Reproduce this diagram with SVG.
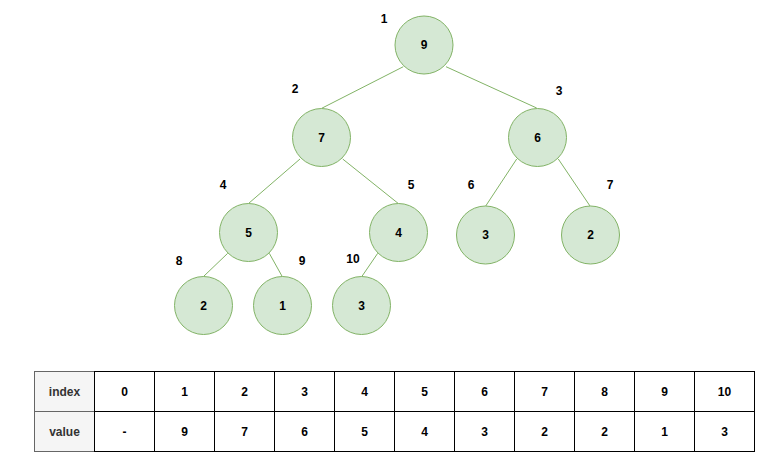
<svg xmlns="http://www.w3.org/2000/svg" width="772" height="471" viewBox="0 0 772 471">
<style>
.n{fill:#d5e8d4;stroke:#82b366;stroke-width:1}
.e{stroke:#82b366;stroke-width:1;fill:none}
.t{font-family:"Liberation Sans",Arial,sans-serif;font-size:12px;font-weight:bold;fill:#000;text-anchor:middle;dominant-baseline:central}
.lb{font-family:"Liberation Sans",Arial,sans-serif;font-size:12px;font-weight:bold;fill:#000;text-anchor:middle;dominant-baseline:central}
.c{fill:#fff;stroke:#000;stroke-width:1}
.h{fill:#f5f5f5;stroke:#666;stroke-width:1}
.ht{font-family:"Liberation Sans",Arial,sans-serif;font-size:12px;font-weight:bold;fill:#333;text-anchor:middle;dominant-baseline:central}
</style>
<rect width="772" height="471" fill="#fff"/>
<g id="connectors">
<line class="e" x1="403.3" y1="66.7" x2="321.7" y2="108.3"/>
<line class="e" x1="446" y1="66.7" x2="536.7" y2="108"/>
<line class="e" x1="300" y1="159" x2="248.5" y2="203.5"/>
<line class="e" x1="342.7" y1="159" x2="398.3" y2="203.5"/>
<line class="e" x1="516.7" y1="159" x2="485.7" y2="206"/>
<line class="e" x1="558.3" y1="159" x2="590" y2="206"/>
<line class="e" x1="227.7" y1="253.3" x2="203.3" y2="276.7"/>
<line class="e" x1="269.3" y1="253.3" x2="282.3" y2="276.7"/>
<line class="e" x1="377.7" y1="253.3" x2="361.7" y2="276.7"/>
</g>
<g id="node1"><circle class="n" cx="424" cy="45" r="29"/><text class="t" x="424" y="45">9</text></g>
<g id="node2"><circle class="n" cx="321.5" cy="137.5" r="29"/><text class="t" x="321.5" y="137.5">7</text></g>
<g id="node3"><circle class="n" cx="537.5" cy="137.5" r="29"/><text class="t" x="537.5" y="137.5">6</text></g>
<g id="node4"><circle class="n" cx="248.5" cy="232.5" r="29"/><text class="t" x="248.5" y="232.5">5</text></g>
<g id="node5"><circle class="n" cx="398.5" cy="232.5" r="29"/><text class="t" x="398.5" y="232.5">4</text></g>
<g id="node6"><circle class="n" cx="485.5" cy="235" r="29"/><text class="t" x="485.5" y="235">3</text></g>
<g id="node7"><circle class="n" cx="590.5" cy="235" r="29"/><text class="t" x="590.5" y="235">2</text></g>
<g id="node8"><circle class="n" cx="203.5" cy="305.5" r="29"/><text class="t" x="203.5" y="305.5">2</text></g>
<g id="node9"><circle class="n" cx="282.5" cy="305.5" r="29"/><text class="t" x="282.5" y="305.5">1</text></g>
<g id="node10"><circle class="n" cx="361.5" cy="305.5" r="29"/><text class="t" x="361.5" y="305.5">3</text></g>
<g id="labels">
<text class="lb" x="384" y="19">1</text>
<text class="lb" x="295" y="89">2</text>
<text class="lb" x="559" y="91">3</text>
<text class="lb" x="223" y="185">4</text>
<text class="lb" x="411" y="185">5</text>
<text class="lb" x="471" y="185">6</text>
<text class="lb" x="610" y="185">7</text>
<text class="lb" x="179" y="261">8</text>
<text class="lb" x="302" y="261">9</text>
<text class="lb" x="353" y="259">10</text>
</g>
<g id="table">
<rect class="h" x="34.5" y="371.5" width="60" height="40"/>
<rect class="h" x="34.5" y="411.5" width="60" height="40"/>
<text class="ht" x="64.5" y="391.5">index</text>
<text class="ht" x="64.5" y="431.5">value</text>
<g id="cells">
<rect class="c" x="94.5" y="371.5" width="60" height="40"/><rect class="c" x="94.5" y="411.5" width="60" height="40"/>
<rect class="c" x="154.5" y="371.5" width="60" height="40"/><rect class="c" x="154.5" y="411.5" width="60" height="40"/>
<rect class="c" x="214.5" y="371.5" width="60" height="40"/><rect class="c" x="214.5" y="411.5" width="60" height="40"/>
<rect class="c" x="274.5" y="371.5" width="60" height="40"/><rect class="c" x="274.5" y="411.5" width="60" height="40"/>
<rect class="c" x="334.5" y="371.5" width="60" height="40"/><rect class="c" x="334.5" y="411.5" width="60" height="40"/>
<rect class="c" x="394.5" y="371.5" width="60" height="40"/><rect class="c" x="394.5" y="411.5" width="60" height="40"/>
<rect class="c" x="454.5" y="371.5" width="60" height="40"/><rect class="c" x="454.5" y="411.5" width="60" height="40"/>
<rect class="c" x="514.5" y="371.5" width="60" height="40"/><rect class="c" x="514.5" y="411.5" width="60" height="40"/>
<rect class="c" x="574.5" y="371.5" width="60" height="40"/><rect class="c" x="574.5" y="411.5" width="60" height="40"/>
<rect class="c" x="634.5" y="371.5" width="60" height="40"/><rect class="c" x="634.5" y="411.5" width="60" height="40"/>
<rect class="c" x="694.5" y="371.5" width="60" height="40"/><rect class="c" x="694.5" y="411.5" width="60" height="40"/>
</g>
<g id="celltext">
<text class="t" x="124.5" y="391.5">0</text><text class="t" x="124.5" y="431.5">-</text>
<text class="t" x="184.5" y="391.5">1</text><text class="t" x="184.5" y="431.5">9</text>
<text class="t" x="244.5" y="391.5">2</text><text class="t" x="244.5" y="431.5">7</text>
<text class="t" x="304.5" y="391.5">3</text><text class="t" x="304.5" y="431.5">6</text>
<text class="t" x="364.5" y="391.5">4</text><text class="t" x="364.5" y="431.5">5</text>
<text class="t" x="424.5" y="391.5">5</text><text class="t" x="424.5" y="431.5">4</text>
<text class="t" x="484.5" y="391.5">6</text><text class="t" x="484.5" y="431.5">3</text>
<text class="t" x="544.5" y="391.5">7</text><text class="t" x="544.5" y="431.5">2</text>
<text class="t" x="604.5" y="391.5">8</text><text class="t" x="604.5" y="431.5">2</text>
<text class="t" x="664.5" y="391.5">9</text><text class="t" x="664.5" y="431.5">1</text>
<text class="t" x="724.5" y="391.5">10</text><text class="t" x="724.5" y="431.5">3</text>
</g>
</g>
</svg>
